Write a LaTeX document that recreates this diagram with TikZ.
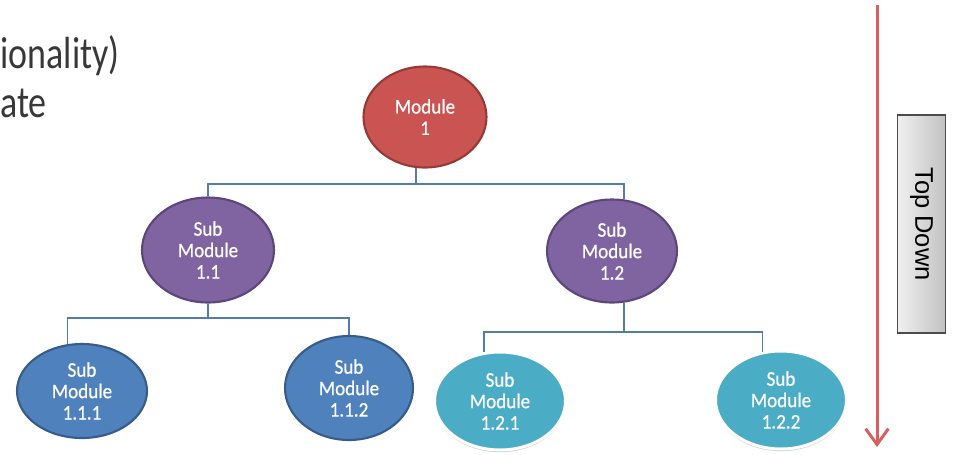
\documentclass[tikz,border=0pt]{standalone}
\usepackage{fontspec}
\usepackage{xcolor}
\newfontfamily\coinfont[FakeStretch=0.8]{Carlito}
\newfontfamily\bullefont[FakeStretch=0.92,FakeBold=0.6]{Carlito}
\newfontfamily\boitefont{Liberation Sans}
\usetikzlibrary{shapes.geometric,arrows.meta,shadows}
\definecolor{rougeMod}{RGB}{201,84,82}
\definecolor{rougeBord}{RGB}{150,58,56}
\definecolor{violetMod}{RGB}{128,100,162}
\definecolor{violetBord}{RGB}{92,70,122}
\definecolor{bleuMod}{RGB}{79,129,189}
\definecolor{bleuBord}{RGB}{55,92,138}
\definecolor{cyanMod}{RGB}{75,172,198}
\definecolor{lienCoul}{RGB}{80,125,170}
\definecolor{flecheCoul}{RGB}{214,96,94}
\definecolor{texteCoul}{RGB}{56,56,56}
\tikzset{
Bulle/.style={
 ellipse,
 inner sep=0pt,
 align=center,
 text=white,
 font=\bullefont\fontsize{11.8}{12.2}\selectfont
 },
BulleRouge/.style={
 Bulle,
 fill=rougeMod,
 draw=rougeBord,
 line width=1.2pt
 },
BulleViolette/.style={
 Bulle,
 fill=violetMod,
 draw=violetBord,
 line width=1.2pt
 },
BulleBleue/.style={
 Bulle,
 fill=bleuMod,
 draw=bleuBord,
 line width=1.2pt
 },
BulleCyan/.style={
 Bulle,
 fill=cyanMod,
 draw=white,
 line width=1.7pt,
 drop shadow={shadow xshift=0pt, shadow yshift=-1.2pt, opacity=0.22, fill=black}
 },
Lien/.style={
 draw=lienCoul,
 line width=0.9pt
 },
GrandeFleche/.style={
 draw=flecheCoul,
 line width=1.7pt,
 -{Straight Barb[length=9pt,width=13pt,line width=1.7pt]}
 },
Etiquette/.style={
 draw=black!70,
 line width=0.9pt,
 left color=black!6,
 right color=black!24,
 rotate=-90,
 minimum width=4.36cm,
 minimum height=0.96cm,
 inner sep=0pt,
 font=\boitefont\fontsize{14.5}{16}\selectfont
 },
Coin/.style={
 text=texteCoul,
 inner sep=0pt,
 font=\coinfont\fontsize{25.6}{28}\selectfont
 }
}

\begin{document}
\begin{tikzpicture}[x=0.02cm,y=-0.02cm]
\useasboundingbox (0,0) rectangle (953,454);
\node[Coin, anchor=base east] (ligneA) at (120,68) {ionality)};
\node[Coin, anchor=base west] (ligneB) at (0,117) {ate};

\node[BulleRouge, minimum width=2.46cm, minimum height=2.02cm] (m1) at (425,117) {Module\\1};
\node[BulleViolette, minimum width=2.64cm, minimum height=2.1cm] (sm11) at (208,250) {Sub\\Module\\1.1};
\node[BulleViolette, minimum width=2.6cm, minimum height=2.06cm] (sm12) at (612,251) {Sub\\Module\\1.2};
\node[BulleBleue, minimum width=2.6cm, minimum height=1.88cm] (sm111) at (82,391) {Sub\\Module\\1.1.1};
\node[BulleBleue, minimum width=2.56cm, minimum height=2.08cm] (sm112) at (349,388) {Sub\\Module\\1.1.2};
\node[BulleCyan, minimum width=2.62cm, minimum height=1.96cm] (sm121) at (500,401) {Sub\\Module\\1.2.1};
\node[BulleCyan, minimum width=2.62cm, minimum height=1.96cm] (sm122) at (781,400) {Sub\\Module\\1.2.2};

\coordinate (bus1) at (0,184);
\coordinate (bus2) at (0,318);
\coordinate (bus3) at (0,332);
\draw[Lien] (m1.260) |- (sm11.north |- bus1) -- (sm11.north);
\draw[Lien] (m1.260) |- (sm12.77 |- bus1) -- (sm12.77);
\draw[Lien] (sm11.south) |- (sm111.107 |- bus2) -- (sm111.107);
\draw[Lien] (sm11.south) |- (sm112.north |- bus2) -- (sm112.north);
\draw[Lien] (sm12.283) |- (sm121.108 |- bus3) -- (sm121.108);
\draw[Lien] (sm12.283) |- (sm122.111 |- bus3) -- (sm122.111);

\coordinate (haut) at (877,5);
\coordinate (bas) at (877,447);
\draw[GrandeFleche] (haut) -- (bas);
\node[Etiquette] (td) at (921.5,224) {Top Down};
\end{tikzpicture}
\end{document}
